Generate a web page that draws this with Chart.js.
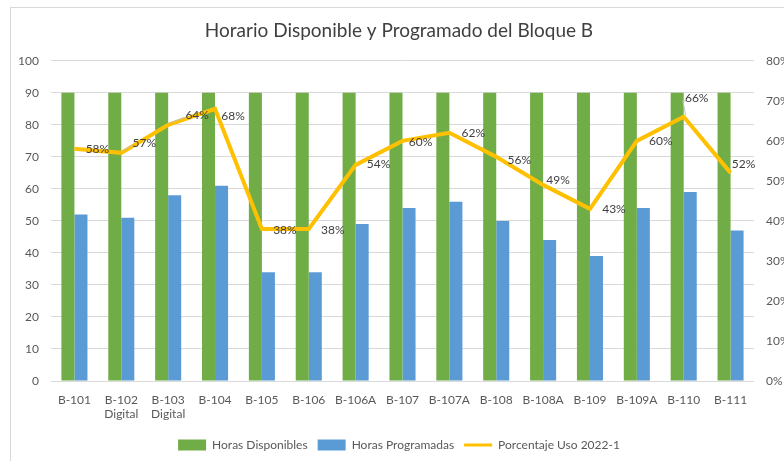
<!DOCTYPE html>
<html>
<head>
<meta charset="utf-8">
<script src="https://cdn.jsdelivr.net/npm/chart.js@4"></script>
<style>
    html, body { margin: 0; padding: 0; background: #fff; }
    #wrap { position: relative; width: 784px; height: 461px; overflow: hidden; }
    #frame { position: absolute; left: 10px; top: 7px; width: 800px; height: 500px; border: 1px solid #d9d9d9; }
    canvas { position: absolute; left: 0; top: 0; }
</style>
</head>
<body>
<div id="wrap">
    <div id="frame"></div>
    <canvas id="chart" width="784" height="461"></canvas>
</div>
<script>
const categories = [
    'B-101', ['B-102', 'Digital'], ['B-103', 'Digital'], 'B-104', 'B-105', 'B-106', 'B-106A',
    'B-107', 'B-107A', 'B-108', 'B-108A', 'B-109', 'B-109A', 'B-110', 'B-111'
];
const horasDisponibles = [90, 90, 90, 90, 90, 90, 90, 90, 90, 90, 90, 90, 90, 90, 90];
const horasProgramadas = [52, 51, 58, 61, 34, 34, 49, 54, 56, 50, 44, 39, 54, 59, 47];
const porcentajeUso = [58, 57, 64, 68, 38, 38, 54, 60, 62, 56, 49, 43, 60, 66, 52];
const leftTicks = [0, 10, 20, 30, 40, 50, 60, 70, 80, 90, 100];
const rightTicks = [0, 10, 20, 30, 40, 50, 60, 70, 80];

// label nudges (px) for the percentage labels, like in the original
const labelNudge = [[23, 0], [23, -10], [29, -10], [18, 7], [23, 1], [24, 1], [23, -1], [18, 1], [24, 0], [23, 3], [15, -5], [24, 0], [24, 0], [13, -19], [13, -9]];
const leaders = [1, 2, 13];

const FONT = 'Lato, "Open Sans", sans-serif';
const TEXT = '#595959';
const GRID = '#d9d9d9';

const percentLabels = {
    id: 'percentLabels',
    afterDatasetsDraw(chart) {
        const meta = chart.getDatasetMeta(0);
        const ctx = chart.ctx;
        ctx.save();
        ctx.font = '12px ' + FONT;
        ctx.fillStyle = '#404040';
        ctx.textAlign = 'center';
        ctx.textBaseline = 'middle';
        meta.data.forEach((pt, i) => {
            const [dx, dy] = labelNudge[i];
            const lx = pt.x + dx, ly = pt.y + dy;
            if (leaders.includes(i)) {
                ctx.strokeStyle = '#bfbfbf';
                ctx.lineWidth = 1;
                ctx.beginPath();
                ctx.moveTo(pt.x + 2, pt.y - 2);
                ctx.lineTo(lx - 14, ly + 3);
                ctx.lineTo(lx - 11, ly + 3);
                ctx.stroke();
            }
            ctx.fillText(porcentajeUso[i] + '%', lx, ly);
        });
        ctx.restore();
    }
};

new Chart(document.getElementById('chart'), {
    data: {
        labels: categories,
        datasets: [
            { type: 'line', label: 'Porcentaje Uso 2022-1', data: porcentajeUso, yAxisID: 'y1', borderColor: '#FFC000', backgroundColor: '#FFC000', borderWidth: 4, pointRadius: 0, tension: 0, order: 0 },
            { type: 'bar', label: 'Horas Disponibles', data: horasDisponibles, backgroundColor: '#70AD47', yAxisID: 'y', order: 1 },
            { type: 'bar', label: 'Horas Programadas', data: horasProgramadas, backgroundColor: '#5B9BD5', yAxisID: 'y', order: 2 }
        ]
    },
    options: {
        responsive: false,
        animation: false,
        datasets: { bar: { categoryPercentage: 0.556, barPercentage: 1 } },
        layout: { padding: { top: 0, left: 14, right: 0, bottom: 0 } },
        scales: {
            x: {
                grid: { display: false, drawTicks: false },
                border: { display: false },
                ticks: { color: TEXT, font: { family: FONT, size: 12 }, padding: 12, maxRotation: 0, autoSkip: false },
                afterFit: s => { s.height = 48; }
            },
            y: {
                position: 'left', min: 0, max: 100,
                afterBuildTicks: s => { s.ticks = leftTicks.map(v => ({ value: v })); },
                grid: { color: GRID, drawTicks: false },
                border: { display: false },
                ticks: { color: TEXT, font: { family: FONT, size: 12 }, padding: 12 },
                afterFit: s => { s.width = 37; }
            },
            y1: {
                position: 'right', min: 0, max: 80,
                afterBuildTicks: s => { s.ticks = rightTicks.map(v => ({ value: v })); },
                grid: { display: false, drawTicks: false },
                border: { display: false },
                ticks: { color: TEXT, font: { family: FONT, size: 12 }, padding: 12, callback: v => v + '%' },
                afterFit: s => { s.width = 30; }
            }
        },
        plugins: {
            title: {
                display: true,
                text: 'Horario Disponible y Programado del Bloque B',
                color: '#404040',
                font: { family: FONT, size: 19, weight: 'normal' },
                padding: { top: 19, bottom: 19 }
            },
            legend: {
                position: 'bottom',
                labels: {
                    color: TEXT,
                    font: { family: FONT, size: 12 },
                    usePointStyle: true,
                    pointStyleWidth: 28,
                    boxHeight: 11,
                    padding: 10,
                    generateLabels: chart => [1, 2, 0].map(i => {
                        const ds = chart.data.datasets[i];
                        return {
                            text: ds.label,
                            datasetIndex: i,
                            fillStyle: ds.backgroundColor,
                            strokeStyle: ds.backgroundColor,
                            lineWidth: ds.type === 'line' ? 3 : 0,
                            pointStyle: ds.type === 'line' ? 'line' : 'rect',
                            fontColor: TEXT
                        };
                    })
                }
            },
            tooltip: { enabled: false }
        }
    },
    plugins: [percentLabels]
});
</script>
</body>
</html>
